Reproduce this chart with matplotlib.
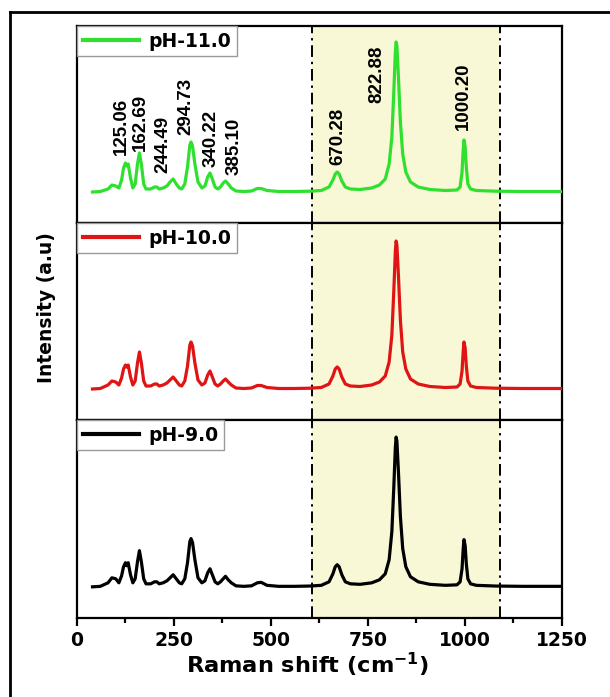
import matplotlib
matplotlib.use("Agg")
import matplotlib.pyplot as plt
from matplotlib.lines import Line2D

# Raman shift (cm-1), shared by the three spectra
shift = [40, 60, 80, 90, 100, 108, 115, 120, 125, 128, 132, 138, 144, 150, 156, 161, 166,
         172, 178, 190, 200, 206, 212, 222, 232, 240, 248, 256, 264, 270, 278, 285, 291,
         294, 298, 304, 312, 322, 330, 337, 343, 349, 356, 363, 370, 377, 383, 390, 398,
         410, 430, 450, 465, 475, 490, 520, 560, 600, 630, 650, 660, 666, 671, 676, 683,
         692, 705, 730, 760, 780, 795, 805, 812, 817, 821, 823, 825, 829, 834, 840, 848,
         860, 880, 910, 950, 980, 988, 993, 996, 998, 1001, 1004, 1008, 1015, 1030, 1080,
         1150, 1250]

ph11 = [0, 0.5, 3, 7, 6, 4, 12, 24, 29, 26, 28, 14, 4, 8, 28, 39, 28,
        8, 3, 3, 5, 5, 3, 4, 6, 10, 13, 8, 4, 3, 8, 25, 47,
        50, 46, 28, 10, 4, 6, 15, 19, 13, 5, 3, 5, 9, 11, 8, 4,
        1, 0.5, 1, 3.5, 3.5, 1.5, 0.5, 0.5, 0.8, 1.5, 5, 12, 18, 20, 18, 11,
        5, 3, 2.5, 4, 7, 13, 28, 55, 100, 140, 150, 146, 115, 70, 38, 20,
        10, 5, 2.5, 1.5, 2, 5, 20, 42, 52, 45, 25, 8, 3, 1.5, 0.8,
        0.5, 0.5]

ph10 = [0, 0.5, 4, 8, 7, 4, 11, 20, 24, 22, 24, 12, 4, 8, 26, 37, 26,
        8, 3, 3, 5, 5, 3, 4, 6, 9, 12, 8, 4, 3, 8, 23, 44,
        47, 43, 26, 9, 4, 6, 14, 18, 12, 5, 3, 5, 8, 10, 7, 4,
        1, 0.5, 1, 3.5, 3.5, 1.5, 0.5, 0.5, 0.8, 1.5, 5, 13, 20, 22, 20, 12,
        5, 3, 2.5, 4, 7, 13, 27, 54, 98, 138, 148, 144, 113, 69, 37, 20,
        10, 5, 2.5, 1.5, 2, 5, 18, 38, 47, 41, 23, 8, 3, 1.5, 0.8,
        0.5, 0.5]

ph9 = [0, 0.5, 4, 9, 8, 4, 11, 20, 24, 21, 24, 12, 4, 8, 25, 36, 25,
       8, 3, 3, 5, 5, 3, 4, 6, 9, 12, 8, 4, 3, 8, 24, 45,
       48, 44, 27, 9, 4, 6, 14, 18, 12, 5, 3, 5, 8, 10.5, 7, 4,
       1, 0.5, 1, 4, 4.5, 1.5, 0.5, 0.5, 0.8, 1.5, 5, 13, 20, 22, 20, 12,
       5, 3, 2.5, 4, 7, 13, 27, 55, 99, 139, 149, 145, 114, 70, 38, 20,
       10, 5, 2.5, 1.5, 2, 5, 18, 38, 47, 41, 23, 8, 3, 1.5, 0.8,
       0.5, 0.5]

labels = ["pH-11.0", "pH-10.0", "pH-9.0"]
colors = ["#2fe02f", "#e01414", "#000000"]

# peak annotations of the top spectrum: text, x position, bottom of text
peak_text = ["125.06", "162.69", "244.49", "294.73", "340.22", "385.10",
             "670.28", "822.88", "1000.20"]
peak_x = [115, 164, 222, 281, 345, 405, 672, 773, 996]
peak_y = [37, 41, 19, 57, 25, 17, 27, 89, 62]

band_lo, band_hi = 605, 1090

fig = plt.figure(figsize=(6.1, 6.97), dpi=100)
W, H = 610.0, 697.0
left = 77 / W
width = (561.7 - 77) / W
edges = [26, 223, 420, 618]

spectra = [ph11, ph10, ph9]
axes = []
for i in range(3):
    top, bot = edges[i], edges[i + 1]
    ax = fig.add_axes([left, 1 - bot / H, width, (bot - top) / H])
    ax.axvspan(band_lo, band_hi, color="#f8f7d6", zorder=0, lw=0)
    for xv in (band_lo, band_hi):
        ax.axvline(xv, color="black", lw=1.4, ls=(0, (6, 2.5, 1.2, 2.5)), zorder=1)
    ax.plot(shift, spectra[i], color=colors[i], lw=2.3, zorder=3)
    ax.set_xlim(0, 1250)
    ax.set_ylim(-31, 166)
    ax.set_yticks([])
    for s in ax.spines.values():
        s.set_linewidth(1.6)
    handle = Line2D([0], [0], color=colors[i], lw=3)
    leg = ax.legend([handle], [labels[i]], loc="upper left", borderaxespad=0,
                    fancybox=False, framealpha=1, edgecolor="#999999",
                    handlelength=3.0, handletextpad=0.5, borderpad=0.3,
                    prop={"weight": "bold", "size": 13.5})
    leg.get_frame().set_linewidth(1.0)
    if i < 2:
        ax.set_xticks([])
    axes.append(ax)

ax = axes[2]
ax.set_xticks([0, 250, 500, 750, 1000, 1250])
ax.set_xticks([125, 375, 625, 875, 1125], minor=True)
ax.tick_params(axis="x", which="major", direction="out", length=6, width=1.6,
               labelsize=13.5, pad=3)
ax.tick_params(axis="x", which="minor", direction="out", length=3.5, width=1.6)
for t in ax.get_xticklabels():
    t.set_fontweight("bold")

for txt, xv, yv in zip(peak_text, peak_x, peak_y):
    axes[0].text(xv, yv, txt, rotation=90, ha="center", va="bottom",
                 fontsize=13.5, fontweight="bold", family="Liberation Sans", zorder=4)

fig.text(307.5 / W, 1 - 673 / H, "Raman shift (cm$^{\\mathbf{-1}}$)", ha="center",
         va="baseline", fontsize=16.2, fontweight="bold")
fig.text(46.7 / W, 1 - 308 / H, "Intensity (a.u)", rotation=90, ha="center",
         va="center", fontsize=13.5, fontweight="bold")

# outer frame (only top and left edges are inside the picture)
fig.add_artist(Line2D([10 / W, 10 / W], [0, 1 - 12 / H], color="black", lw=2,
                      transform=fig.transFigure))
fig.add_artist(Line2D([10 / W, 1], [1 - 12 / H, 1 - 12 / H], color="black", lw=2,
                      transform=fig.transFigure))

fig.savefig("out.png", dpi=100)
